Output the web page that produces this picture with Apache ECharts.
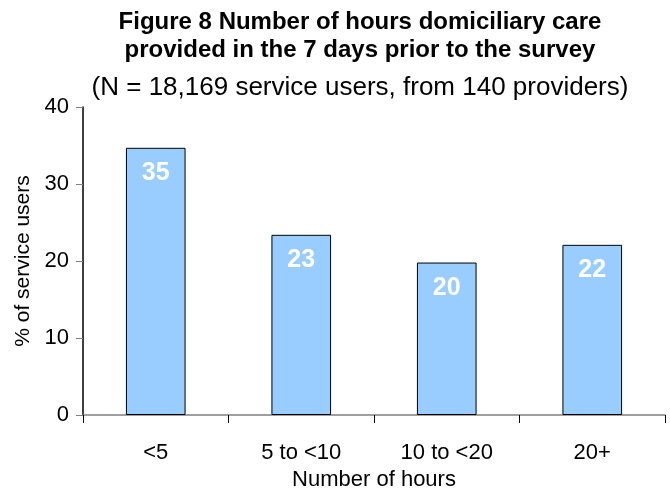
<!DOCTYPE html>
<html>
<head>
<meta charset="utf-8">
<script src="https://cdn.jsdelivr.net/npm/echarts@6/dist/echarts.min.js"></script>
<style>
  html, body { margin: 0; padding: 0; background: #fff; }
  #chart { width: 670px; height: 491px; }
</style>
</head>
<body>
<div id="chart"></div>
<script>
const categories = ['<5', '5 to <10', '10 to <20', '20+'];
const percentUsers = [34.7, 23.4, 19.8, 22.1];
const barLabels = ['35', '23', '20', '22'];

const chart = echarts.init(document.getElementById('chart'));
const font = 'Liberation Sans, Arial, sans-serif';

chart.setOption({
    backgroundColor: '#fff',
    animation: false,
    title: [
        {
            text: 'Figure 8 Number of hours domiciliary care\nprovided in the 7 days prior to the survey',
            left: 355,
            top: 3,
            textAlign: 'center',
            textStyle: {
                fontFamily: font,
                fontSize: 24,
                fontWeight: 'bold',
                color: '#000',
                lineHeight: 28,
            },
        },
        {
            text: '(N = 18,169 service users, from 140 providers)',
            left: 355,
            top: 70,
            textAlign: 'center',
            textStyle: {
                fontFamily: font,
                fontSize: 26,
                fontWeight: 'normal',
                color: '#000',
            },
        },
    ],
    grid: {
        left: 83,
        right: 5,
        top: 107,
        bottom: 76,
        outerBoundsMode: 'none',
    },
    xAxis: {
        type: 'category',
        data: categories,
        name: 'Number of hours',
        nameLocation: 'middle',
        nameGap: 54,
        nameTextStyle: { fontFamily: font, fontSize: 22, color: '#000' },
        axisLine: { lineStyle: { color: '#808080', width: 1.5 } },
        axisTick: { show: true, length: 8, lineStyle: { color: '#000' } },
        axisLabel: { fontFamily: font, fontSize: 22, color: '#000', margin: 27 },
    },
    yAxis: {
        type: 'value',
        min: 0,
        max: 40,
        interval: 10,
        name: '% of service users',
        nameLocation: 'middle',
        nameGap: 49,
        nameTextStyle: { fontFamily: font, fontSize: 21, color: '#000' },
        axisLine: { show: true, lineStyle: { color: '#000', width: 1.5 } },
        axisTick: { show: true, length: 7, lineStyle: { color: '#808080' } },
        splitLine: { show: false },
        axisLabel: { fontFamily: font, fontSize: 22, color: '#000', margin: 14 },
    },
    series: [
        {
            type: 'bar',
            data: percentUsers,
            barWidth: '41%',
            itemStyle: {
                color: '#99CCFF',
                borderColor: '#000',
                borderWidth: 1,
            },
            label: {
                show: true,
                position: 'insideTop',
                distance: 13,
                fontFamily: font,
                fontSize: 25,
                fontWeight: 'bold',
                color: '#fff',
                formatter: (p) => barLabels[p.dataIndex],
            },
        },
    ],
});
</script>
</body>
</html>
